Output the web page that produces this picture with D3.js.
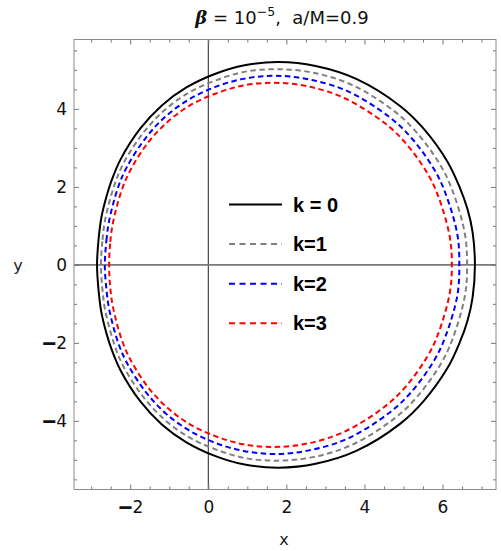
<!DOCTYPE html>
<html>
<head>
<meta charset="utf-8">
<script src="https://cdn.jsdelivr.net/npm/d3@7"></script>
<style>
  html, body { margin: 0; padding: 0; background: #fff; }
  svg { display: block; font-family: "DejaVu Sans", sans-serif; }
</style>
</head>
<body>
<svg id="chart" width="501" height="551"></svg>
<script>
// Shadow boundary contours (x, y) for each k
const shadowK0 = [
  [-2.85, 0], [-2.81, 0.66], [-2.74, 1.21], [-2.61, 1.75], [-2.49, 2.13], [-2.25, 2.70],
  [-1.74, 3.50], [-1.19, 4.09], [-0.56, 4.55], [0.15, 4.89], [0.93, 5.12], [1.80, 5.20],
  [2.75, 5.10], [3.79, 4.77], [4.92, 4.07], [5.51, 3.50], [6.13, 2.64], [6.44, 1.99],
  [6.64, 1.43], [6.77, 0.84], [6.83, 0],
  [6.77, -0.84], [6.64, -1.43], [6.44, -1.99], [6.13, -2.64], [5.51, -3.50], [4.92, -4.07],
  [3.79, -4.77], [2.75, -5.10], [1.80, -5.20], [0.93, -5.12], [0.15, -4.89], [-0.56, -4.55],
  [-1.19, -4.09], [-1.74, -3.50], [-2.25, -2.70], [-2.49, -2.13], [-2.61, -1.75], [-2.74, -1.21],
  [-2.81, -0.66]
];
const shadowK1 = [
  [-2.75, 0], [-2.71, 0.64], [-2.64, 1.17], [-2.40, 2.06], [-2.17, 2.61], [-1.67, 3.38],
  [-1.14, 3.95], [-0.53, 4.40], [0.16, 4.72], [0.92, 4.95], [1.76, 5.02], [2.68, 4.93],
  [3.69, 4.61], [4.78, 3.93], [5.35, 3.38], [5.95, 2.55], [6.25, 1.92], [6.57, 0.81], [6.63, 0],
  [6.57, -0.81], [6.25, -1.92], [5.95, -2.55], [5.35, -3.38], [4.78, -3.93], [3.69, -4.61],
  [2.68, -4.93], [1.76, -5.02], [0.92, -4.95], [0.16, -4.72], [-0.53, -4.40], [-1.14, -3.95],
  [-1.67, -3.38], [-2.17, -2.61], [-2.40, -2.06], [-2.64, -1.17], [-2.71, -0.64]
];
const shadowK2 = [
  [-2.65, 0], [-2.61, 0.62], [-2.54, 1.13], [-2.31, 1.99], [-2.08, 2.52], [-1.60, 3.26],
  [-1.09, 3.81], [-0.50, 4.24], [0.17, 4.56], [0.90, 4.77], [1.72, 4.85], [2.61, 4.75],
  [3.58, 4.45], [4.64, 3.79], [5.20, 3.26], [5.78, 2.46], [6.07, 1.85], [6.38, 0.78], [6.43, 0],
  [6.38, -0.78], [6.07, -1.85], [5.78, -2.46], [5.20, -3.26], [4.64, -3.79], [3.58, -4.45],
  [2.61, -4.75], [1.72, -4.85], [0.90, -4.77], [0.17, -4.56], [-0.50, -4.24], [-1.09, -3.81],
  [-1.60, -3.26], [-2.08, -2.52], [-2.31, -1.99], [-2.54, -1.13], [-2.61, -0.62]
];
const shadowK3 = [
  [-2.54, 0], [-2.51, 0.59], [-2.44, 1.09], [-2.22, 1.91], [-2.00, 2.42], [-1.54, 3.14],
  [-1.04, 3.67], [-0.47, 4.09], [0.18, 4.39], [0.89, 4.60], [1.67, 4.67], [2.54, 4.58],
  [3.48, 4.28], [4.50, 3.65], [5.04, 3.14], [5.60, 2.37], [5.88, 1.79], [6.18, 0.75], [6.24, 0],
  [6.18, -0.75], [5.88, -1.79], [5.60, -2.37], [5.04, -3.14], [4.50, -3.65], [3.48, -4.28],
  [2.54, -4.58], [1.67, -4.67], [0.89, -4.60], [0.18, -4.39], [-0.47, -4.09], [-1.04, -3.67],
  [-1.54, -3.14], [-2.00, -2.42], [-2.22, -1.91], [-2.44, -1.09], [-2.51, -0.59]
];

const seriesLabels = ["k = 0", "k=1", "k=2", "k=3"];
const seriesColors = ["#000000", "#808080", "#0000ff", "#ff0000"];
const seriesDashes = [null, "5.5,3.5", "5.5,3.5", "5.5,3.5"];

const xMajorTicks = [-2, 0, 2, 4, 6];
const yMajorTicks = [-4, -2, 0, 2, 4];
const xDomain = [-3.44, 7.37];
const yDomain = [-5.76, 5.78];

const svg = d3.select("#chart");
const plotLeft = 74, plotRight = 496, plotTop = 39.5, plotBottom = 489.5;

const x = d3.scaleLinear().domain(xDomain).range([plotLeft, plotRight]);
const y = d3.scaleLinear().domain(yDomain).range([plotBottom, plotTop]);

// title
const title = svg.append("text")
  .attr("x", 282).attr("y", 24)
  .attr("text-anchor", "middle")
  .attr("font-size", 18)
  .attr("fill", "#111");
title.append("tspan").attr("font-weight", "bold").attr("font-style", "italic")
  .attr("font-family", "'DejaVu Serif', serif").text("β");
title.append("tspan").text(" = 10");
title.append("tspan").attr("dy", -8).attr("font-size", 12.5).text("−5");
title.append("tspan").attr("dy", 8).text(",\u00a0 a/M=0.9");

// clip region
svg.append("defs").append("clipPath").attr("id", "plotClip")
  .append("rect").attr("x", plotLeft).attr("y", plotTop)
  .attr("width", plotRight - plotLeft).attr("height", plotBottom - plotTop);

// zero lines
svg.append("line")
  .attr("x1", x(0)).attr("x2", x(0)).attr("y1", plotTop).attr("y2", plotBottom)
  .attr("stroke", "#222").attr("stroke-width", 1);
svg.append("line")
  .attr("x1", plotLeft).attr("x2", plotRight).attr("y1", y(0)).attr("y2", y(0))
  .attr("stroke", "#7a7a7a").attr("stroke-width", 1.6);

// frame axes with inward ticks
const tickColor = "#777";
function styleAxis(g) {
  g.attr("font-family", null).attr("font-size", null);
  g.select(".domain").remove();
  g.selectAll("line").attr("stroke", tickColor).attr("stroke-width", 1);
  g.selectAll("text").attr("font-size", 17).attr("fill", "#111")
    .attr("font-family", "'DejaVu Sans', sans-serif");
}
// heavy minus sign for negative tick labels
function heavyMinus(g) {
  g.selectAll(".tick text").each(function(d) {
    const t = d3.select(this);
    t.text(null);
    if (d < 0) {
      t.append("tspan").attr("stroke", "#111").attr("stroke-width", 1.4).text("−");
      t.append("tspan").text(String(Math.abs(d)));
    } else {
      t.append("tspan").text(String(d));
    }
  });
}
const minorX = d3.range(-3, 7.5, 0.5).filter(v => !xMajorTicks.includes(v));
const minorY = d3.range(-5.5, 6, 0.5).filter(v => !yMajorTicks.includes(v));

// bottom
svg.append("g").attr("transform", `translate(0,${plotBottom})`)
  .call(d3.axisBottom(x).tickValues(xMajorTicks).tickSizeInner(-5).tickSizeOuter(0).tickPadding(11))
  .call(styleAxis).call(heavyMinus);
svg.append("g").attr("transform", `translate(0,${plotBottom})`)
  .call(d3.axisBottom(x).tickValues(minorX).tickSizeInner(-3).tickSizeOuter(0).tickFormat(""))
  .call(styleAxis);
// top
svg.append("g").attr("transform", `translate(0,${plotTop})`)
  .call(d3.axisTop(x).tickValues(xMajorTicks).tickSizeInner(-5).tickSizeOuter(0).tickFormat(""))
  .call(styleAxis);
svg.append("g").attr("transform", `translate(0,${plotTop})`)
  .call(d3.axisTop(x).tickValues(minorX).tickSizeInner(-3).tickSizeOuter(0).tickFormat(""))
  .call(styleAxis);
// left
svg.append("g").attr("transform", `translate(${plotLeft},0)`)
  .call(d3.axisLeft(y).tickValues(yMajorTicks).tickSizeInner(-5).tickSizeOuter(0).tickPadding(7))
  .call(styleAxis).call(heavyMinus);
svg.append("g").attr("transform", `translate(${plotLeft},0)`)
  .call(d3.axisLeft(y).tickValues(minorY).tickSizeInner(-3).tickSizeOuter(0).tickFormat(""))
  .call(styleAxis);
// right
svg.append("g").attr("transform", `translate(${plotRight},0)`)
  .call(d3.axisRight(y).tickValues(yMajorTicks).tickSizeInner(-5).tickSizeOuter(0).tickFormat(""))
  .call(styleAxis);
svg.append("g").attr("transform", `translate(${plotRight},0)`)
  .call(d3.axisRight(y).tickValues(minorY).tickSizeInner(-3).tickSizeOuter(0).tickFormat(""))
  .call(styleAxis);

// frame
svg.append("rect")
  .attr("x", plotLeft).attr("y", plotTop).attr("width", plotRight - plotLeft).attr("height", plotBottom - plotTop)
  .attr("fill", "none").attr("stroke", "#8c8c8c").attr("stroke-width", 1);

// axis titles
svg.append("text").attr("x", 284).attr("y", 545).attr("text-anchor", "middle")
  .attr("font-size", 16).attr("fill", "#222").text("x");
svg.append("text").attr("x", 18).attr("y", 271).attr("text-anchor", "middle")
  .attr("font-size", 16).attr("fill", "#222").text("y");

// contours
const line = d3.line().x(d => x(d[0])).y(d => y(d[1])).curve(d3.curveCatmullRomClosed.alpha(0.5));
const allSeries = [shadowK0, shadowK1, shadowK2, shadowK3];
const plot = svg.append("g").attr("clip-path", "url(#plotClip)");
allSeries.forEach((pts, i) => {
  plot.append("path")
    .attr("d", line(pts))
    .attr("fill", "none")
    .attr("stroke", seriesColors[i])
    .attr("stroke-width", 2)
    .attr("stroke-dasharray", seriesDashes[i]);
});

// legend
const legend = svg.append("g");
seriesLabels.forEach((lab, i) => {
  const ly = 204.5 + i * 39.6;
  legend.append("line")
    .attr("x1", 229).attr("x2", 282).attr("y1", ly).attr("y2", ly)
    .attr("stroke", seriesColors[i]).attr("stroke-width", 2)
    .attr("stroke-dasharray", seriesDashes[i] ? "6,4.5" : null);
  legend.append("text")
    .attr("x", 293).attr("y", ly + 7)
    .attr("font-family", "'Liberation Sans', Arial, sans-serif")
    .attr("font-size", 20).attr("font-weight", "bold").attr("fill", "#000")
    .text(lab);
});
</script>
</body>
</html>
